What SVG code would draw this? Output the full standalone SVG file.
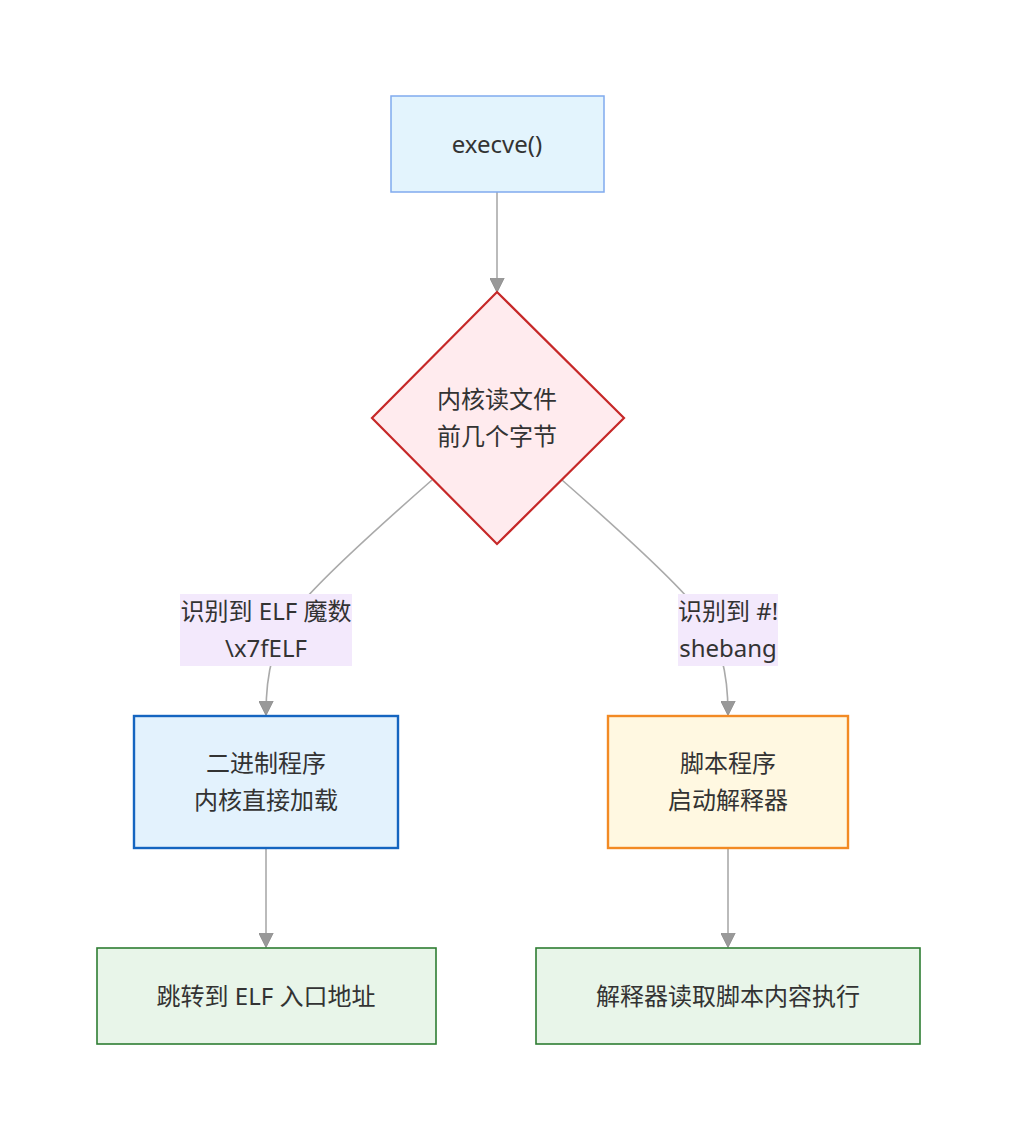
<svg xmlns="http://www.w3.org/2000/svg" width="1016" height="1140" viewBox="0 0 1016 1140">
<defs>
<style>
.t{font-family:"Noto Sans","Noto Sans CJK SC",sans-serif;font-size:24px;fill:#333;text-anchor:middle;dominant-baseline:central}
.e{fill:none;stroke:#aaa;stroke-width:1.6}
.lb{fill:#f3e9fc}
</style>
<marker id="ah" viewBox="0 0 10 10" refX="9" refY="5" markerWidth="15" markerHeight="15" markerUnits="userSpaceOnUse" orient="auto">
<path d="M0,0 L10,5 L0,10 z" fill="#999" stroke="#888" stroke-width="0.5"/>
</marker>
</defs>
<rect width="1016" height="1140" fill="#fff"/>
<g id="edges">
<path class="e" d="M497,192 L497,291" marker-end="url(#ah)"/>
<path class="e" d="M432,480 C375,530 325,575 300,605 C272,640 266,675 266,714" marker-end="url(#ah)"/>
<path class="e" d="M562,480 C619,530 669,575 694,605 C722,640 728,675 728,714" marker-end="url(#ah)"/>
<path class="e" d="M266,848 L266,946" marker-end="url(#ah)"/>
<path class="e" d="M728,848 L728,946" marker-end="url(#ah)"/>
</g>
<g id="label-elf">
<rect class="lb" x="180" y="594" width="172" height="72"/>
<text class="t" x="266" y="610">识别到 ELF 魔数</text>
<text class="t" x="266" y="647">\x7fELF</text>
</g>
<g id="label-shebang">
<rect class="lb" x="678" y="594" width="100" height="72"/>
<text class="t" x="728" y="610">识别到 #!</text>
<text class="t" x="728" y="647">shebang</text>
</g>
<g id="n-execve">
<rect x="391" y="96" width="213" height="96" fill="#e3f4fd" stroke="#80aaee" stroke-width="1.5"/>
<text class="t" x="497" y="143">execve()</text>
</g>
<g id="n-read">
<polygon points="497,292 624,418 497,544 372,418" fill="#ffebee" stroke="#c62828" stroke-width="2.2"/>
<text class="t" x="497" y="398">内核读文件</text>
<text class="t" x="497" y="435">前几个字节</text>
</g>
<g id="n-binary">
<rect x="134" y="716" width="264" height="132" fill="#e3f2fd" stroke="#1565c0" stroke-width="2.4"/>
<text class="t" x="266" y="762">二进制程序</text>
<text class="t" x="266" y="799">内核直接加载</text>
</g>
<g id="n-script">
<rect x="608" y="716" width="240" height="132" fill="#fff8e1" stroke="#f28a24" stroke-width="2.4"/>
<text class="t" x="728" y="762">脚本程序</text>
<text class="t" x="728" y="799">启动解释器</text>
</g>
<g id="n-jump">
<rect x="97" y="948" width="339" height="96" fill="#e8f5e9" stroke="#2e7d32" stroke-width="1.6"/>
<text class="t" x="266" y="995">跳转到 ELF 入口地址</text>
</g>
<g id="n-interp">
<rect x="536" y="948" width="384" height="96" fill="#e8f5e9" stroke="#2e7d32" stroke-width="1.6"/>
<text class="t" x="728" y="995">解释器读取脚本内容执行</text>
</g>
</svg>
